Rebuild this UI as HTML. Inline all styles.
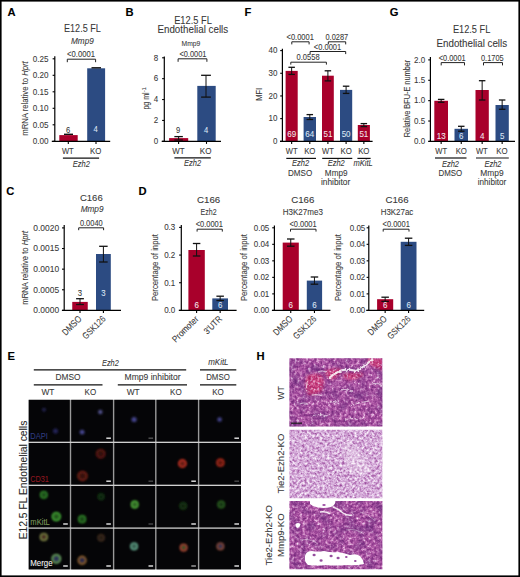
<!DOCTYPE html>
<html><head><meta charset="utf-8"><style>
html,body{margin:0;padding:0;background:#fff;}
body{width:520px;height:577px;overflow:hidden;}
svg{display:block;font-family:"Liberation Sans", sans-serif;}
</style></head><body>
<svg width="520" height="577" viewBox="0 0 520 577">
<rect x="0" y="0" width="520" height="577" fill="#fff"/>
<rect x="0.8" y="0.8" width="518.4" height="575.4" fill="none" stroke="#000" stroke-width="1.6"/>
<text x="7.60" y="15.60" font-size="11.20" text-anchor="start" fill="#000" font-weight="bold" stroke="#000" stroke-width="0.1" textLength="8.09" lengthAdjust="spacingAndGlyphs">A</text>
<text x="125.60" y="15.70" font-size="11.20" text-anchor="start" fill="#000" font-weight="bold" stroke="#000" stroke-width="0.1" textLength="8.09" lengthAdjust="spacingAndGlyphs">B</text>
<text x="244.60" y="15.90" font-size="11.20" text-anchor="start" fill="#000" font-weight="bold" stroke="#000" stroke-width="0.1" textLength="6.84" lengthAdjust="spacingAndGlyphs">F</text>
<text x="389.80" y="15.60" font-size="11.20" text-anchor="start" fill="#000" font-weight="bold" stroke="#000" stroke-width="0.1" textLength="8.71" lengthAdjust="spacingAndGlyphs">G</text>
<text x="6.30" y="195.20" font-size="11.20" text-anchor="start" fill="#000" font-weight="bold" stroke="#000" stroke-width="0.1" textLength="8.09" lengthAdjust="spacingAndGlyphs">C</text>
<text x="138.60" y="195.20" font-size="11.20" text-anchor="start" fill="#000" font-weight="bold" stroke="#000" stroke-width="0.1" textLength="8.09" lengthAdjust="spacingAndGlyphs">D</text>
<text x="7.60" y="360.20" font-size="11.20" text-anchor="start" fill="#000" font-weight="bold" stroke="#000" stroke-width="0.1" textLength="7.47" lengthAdjust="spacingAndGlyphs">E</text>
<text x="256.50" y="360.30" font-size="11.20" text-anchor="start" fill="#000" font-weight="bold" stroke="#000" stroke-width="0.1" textLength="8.09" lengthAdjust="spacingAndGlyphs">H</text>
<text x="82.40" y="32.00" font-size="11.04" text-anchor="middle" fill="#383838" stroke="#383838" stroke-width="0.08" textLength="36.80" lengthAdjust="spacingAndGlyphs">E12.5 FL</text>
<text x="82.40" y="43.80" font-size="8.51" text-anchor="middle" fill="#383838" font-style="italic" stroke="#383838" stroke-width="0.08" textLength="22.80" lengthAdjust="spacingAndGlyphs">Mmp9</text>
<text x="81.00" y="57.00" font-size="8.74" text-anchor="middle" fill="#383838" stroke="#383838" stroke-width="0.08" textLength="27.90" lengthAdjust="spacingAndGlyphs">&lt;0.0001</text>
<path d="M67.30 62.20V59.20H95.60V62.20" fill="none" stroke="#222" stroke-width="1"/>
<line x1="54.80" y1="56.20" x2="54.80" y2="141.90" stroke="#000" stroke-width="1.2"/>
<line x1="52.60" y1="141.30" x2="54.80" y2="141.30" stroke="#000" stroke-width="1.1"/>
<text x="48.50" y="144.10" font-size="9.20" text-anchor="end" fill="#383838" stroke="#383838" stroke-width="0.08" textLength="15.80" lengthAdjust="spacingAndGlyphs">0.00</text>
<line x1="52.60" y1="124.80" x2="54.80" y2="124.80" stroke="#000" stroke-width="1.1"/>
<text x="48.50" y="127.60" font-size="9.20" text-anchor="end" fill="#383838" stroke="#383838" stroke-width="0.08" textLength="15.80" lengthAdjust="spacingAndGlyphs">0.05</text>
<line x1="52.60" y1="108.30" x2="54.80" y2="108.30" stroke="#000" stroke-width="1.1"/>
<text x="48.50" y="111.10" font-size="9.20" text-anchor="end" fill="#383838" stroke="#383838" stroke-width="0.08" textLength="15.80" lengthAdjust="spacingAndGlyphs">0.10</text>
<line x1="52.60" y1="91.80" x2="54.80" y2="91.80" stroke="#000" stroke-width="1.1"/>
<text x="48.50" y="94.60" font-size="9.20" text-anchor="end" fill="#383838" stroke="#383838" stroke-width="0.08" textLength="15.80" lengthAdjust="spacingAndGlyphs">0.15</text>
<line x1="52.60" y1="75.30" x2="54.80" y2="75.30" stroke="#000" stroke-width="1.1"/>
<text x="48.50" y="78.10" font-size="9.20" text-anchor="end" fill="#383838" stroke="#383838" stroke-width="0.08" textLength="15.80" lengthAdjust="spacingAndGlyphs">0.20</text>
<line x1="52.60" y1="58.80" x2="54.80" y2="58.80" stroke="#000" stroke-width="1.1"/>
<text x="48.50" y="61.60" font-size="9.20" text-anchor="end" fill="#383838" stroke="#383838" stroke-width="0.08" textLength="15.80" lengthAdjust="spacingAndGlyphs">0.25</text>
<rect x="59.30" y="135.10" width="18.40" height="6.20" fill="#a8002b" />
<rect x="87.20" y="68.30" width="17.90" height="73.00" fill="#2c4b82" />
<line x1="64.00" y1="134.30" x2="73.00" y2="134.30" stroke="#111" stroke-width="1.4"/>
<line x1="91.50" y1="67.80" x2="101.00" y2="67.80" stroke="#111" stroke-width="1.4"/>
<line x1="51.80" y1="141.30" x2="110.20" y2="141.30" stroke="#000" stroke-width="1.3"/>
<line x1="68.30" y1="141.30" x2="68.30" y2="143.90" stroke="#000" stroke-width="1.1"/>
<line x1="96.00" y1="141.30" x2="96.00" y2="143.90" stroke="#000" stroke-width="1.1"/>
<text x="68.00" y="132.60" font-size="8.74" text-anchor="middle" fill="#383838" stroke="#383838" stroke-width="0.08" textLength="4.23" lengthAdjust="spacingAndGlyphs">6</text>
<text x="95.50" y="132.40" font-size="8.74" text-anchor="middle" fill="#dde6f5" stroke="#dde6f5" stroke-width="0.08" textLength="4.23" lengthAdjust="spacingAndGlyphs">4</text>
<text x="67.80" y="154.20" font-size="8.74" text-anchor="middle" fill="#383838" stroke="#383838" stroke-width="0.08" textLength="11.80" lengthAdjust="spacingAndGlyphs">WT</text>
<text x="95.60" y="154.20" font-size="8.74" text-anchor="middle" fill="#383838" stroke="#383838" stroke-width="0.08" textLength="11.30" lengthAdjust="spacingAndGlyphs">KO</text>
<line x1="62.90" y1="158.10" x2="99.10" y2="158.10" stroke="#111" stroke-width="1.2"/>
<text x="81.40" y="166.50" font-size="8.74" text-anchor="middle" fill="#383838" font-style="italic" stroke="#383838" stroke-width="0.08" textLength="17.10" lengthAdjust="spacingAndGlyphs">Ezh2</text>
<text x="28.40" y="98.50" font-size="9.54" text-anchor="middle" fill="#383838" stroke="#383838" stroke-width="0.08" textLength="74.50" lengthAdjust="spacingAndGlyphs" transform="rotate(-90 28.40 98.50)">mRNA relative to <tspan font-style="italic">Hprt</tspan></text>
<text x="193.00" y="24.40" font-size="10.00" text-anchor="middle" fill="#383838" stroke="#383838" stroke-width="0.08" textLength="37.60" lengthAdjust="spacingAndGlyphs">E12.5 FL</text>
<text x="192.80" y="33.40" font-size="10.20" text-anchor="middle" fill="#383838" stroke="#383838" stroke-width="0.08" textLength="70.70" lengthAdjust="spacingAndGlyphs">Endothelial cells</text>
<text x="190.90" y="45.70" font-size="7.80" text-anchor="middle" fill="#383838" stroke="#383838" stroke-width="0.08" textLength="18.80" lengthAdjust="spacingAndGlyphs">Mmp9</text>
<text x="192.90" y="57.00" font-size="8.51" text-anchor="middle" fill="#383838" stroke="#383838" stroke-width="0.08" textLength="27.00" lengthAdjust="spacingAndGlyphs">&lt;0.0001</text>
<path d="M178.10 61.80V58.80H206.90V61.80" fill="none" stroke="#222" stroke-width="1"/>
<line x1="164.30" y1="56.60" x2="164.30" y2="141.90" stroke="#000" stroke-width="1.2"/>
<line x1="162.10" y1="141.30" x2="164.30" y2="141.30" stroke="#000" stroke-width="1.1"/>
<text x="158.30" y="144.10" font-size="9.20" text-anchor="end" fill="#383838" stroke="#383838" stroke-width="0.08" textLength="4.45" lengthAdjust="spacingAndGlyphs">0</text>
<line x1="162.10" y1="120.43" x2="164.30" y2="120.43" stroke="#000" stroke-width="1.1"/>
<text x="158.30" y="123.23" font-size="9.20" text-anchor="end" fill="#383838" stroke="#383838" stroke-width="0.08" textLength="4.45" lengthAdjust="spacingAndGlyphs">2</text>
<line x1="162.10" y1="99.55" x2="164.30" y2="99.55" stroke="#000" stroke-width="1.1"/>
<text x="158.30" y="102.35" font-size="9.20" text-anchor="end" fill="#383838" stroke="#383838" stroke-width="0.08" textLength="4.45" lengthAdjust="spacingAndGlyphs">4</text>
<line x1="162.10" y1="78.67" x2="164.30" y2="78.67" stroke="#000" stroke-width="1.1"/>
<text x="158.30" y="81.47" font-size="9.20" text-anchor="end" fill="#383838" stroke="#383838" stroke-width="0.08" textLength="4.45" lengthAdjust="spacingAndGlyphs">6</text>
<line x1="162.10" y1="57.80" x2="164.30" y2="57.80" stroke="#000" stroke-width="1.1"/>
<text x="158.30" y="60.60" font-size="9.20" text-anchor="end" fill="#383838" stroke="#383838" stroke-width="0.08" textLength="4.45" lengthAdjust="spacingAndGlyphs">8</text>
<rect x="169.10" y="138.10" width="19.10" height="3.20" fill="#a8002b" />
<rect x="197.30" y="85.90" width="18.40" height="55.40" fill="#2c4b82" />
<line x1="178.60" y1="136.60" x2="178.60" y2="140.00" stroke="#111" stroke-width="1"/>
<line x1="174.35" y1="136.60" x2="182.85" y2="136.60" stroke="#111" stroke-width="1.3"/>
<line x1="174.35" y1="140.00" x2="182.85" y2="140.00" stroke="#111" stroke-width="1.3"/>
<line x1="206.00" y1="75.30" x2="206.00" y2="97.10" stroke="#111" stroke-width="1"/>
<line x1="201.10" y1="75.30" x2="210.90" y2="75.30" stroke="#111" stroke-width="1.3"/>
<line x1="201.10" y1="97.10" x2="210.90" y2="97.10" stroke="#111" stroke-width="1.3"/>
<line x1="161.70" y1="141.30" x2="221.00" y2="141.30" stroke="#000" stroke-width="1.3"/>
<line x1="178.60" y1="141.30" x2="178.60" y2="143.90" stroke="#000" stroke-width="1.1"/>
<line x1="206.50" y1="141.30" x2="206.50" y2="143.90" stroke="#000" stroke-width="1.1"/>
<text x="178.20" y="132.90" font-size="8.74" text-anchor="middle" fill="#383838" stroke="#383838" stroke-width="0.08" textLength="4.23" lengthAdjust="spacingAndGlyphs">9</text>
<text x="206.20" y="132.90" font-size="8.74" text-anchor="middle" fill="#dde6f5" stroke="#dde6f5" stroke-width="0.08" textLength="4.23" lengthAdjust="spacingAndGlyphs">4</text>
<text x="178.40" y="154.20" font-size="8.74" text-anchor="middle" fill="#383838" stroke="#383838" stroke-width="0.08" textLength="12.30" lengthAdjust="spacingAndGlyphs">WT</text>
<text x="205.60" y="154.20" font-size="8.74" text-anchor="middle" fill="#383838" stroke="#383838" stroke-width="0.08" textLength="11.60" lengthAdjust="spacingAndGlyphs">KO</text>
<line x1="174.40" y1="157.80" x2="210.80" y2="157.80" stroke="#111" stroke-width="1.2"/>
<text x="192.60" y="166.00" font-size="8.74" text-anchor="middle" fill="#383838" font-style="italic" stroke="#383838" stroke-width="0.08" textLength="17.10" lengthAdjust="spacingAndGlyphs">Ezh2</text>
<text x="148.60" y="109.60" font-size="8.97" text-anchor="start" fill="#383838" stroke="#383838" stroke-width="0.08" textLength="17.20" lengthAdjust="spacingAndGlyphs" transform="rotate(-90 148.60 109.60)">pg ml</text>
<text x="145.60" y="92.00" font-size="5.98" text-anchor="start" fill="#383838" stroke="#383838" stroke-width="0.08" textLength="4.60" lengthAdjust="spacingAndGlyphs" transform="rotate(-90 145.60 92.00)">-1</text>
<line x1="282.40" y1="48.80" x2="282.40" y2="141.90" stroke="#000" stroke-width="1.2"/>
<line x1="280.20" y1="141.30" x2="282.40" y2="141.30" stroke="#000" stroke-width="1.1"/>
<text x="277.40" y="144.10" font-size="9.20" text-anchor="end" fill="#383838" stroke="#383838" stroke-width="0.08" textLength="4.45" lengthAdjust="spacingAndGlyphs">0</text>
<line x1="280.20" y1="118.62" x2="282.40" y2="118.62" stroke="#000" stroke-width="1.1"/>
<text x="277.40" y="121.42" font-size="9.20" text-anchor="end" fill="#383838" stroke="#383838" stroke-width="0.08" textLength="8.90" lengthAdjust="spacingAndGlyphs">10</text>
<line x1="280.20" y1="95.95" x2="282.40" y2="95.95" stroke="#000" stroke-width="1.1"/>
<text x="277.40" y="98.75" font-size="9.20" text-anchor="end" fill="#383838" stroke="#383838" stroke-width="0.08" textLength="8.90" lengthAdjust="spacingAndGlyphs">20</text>
<line x1="280.20" y1="73.27" x2="282.40" y2="73.27" stroke="#000" stroke-width="1.1"/>
<text x="277.40" y="76.07" font-size="9.20" text-anchor="end" fill="#383838" stroke="#383838" stroke-width="0.08" textLength="8.90" lengthAdjust="spacingAndGlyphs">30</text>
<line x1="280.20" y1="50.60" x2="282.40" y2="50.60" stroke="#000" stroke-width="1.1"/>
<text x="277.40" y="53.40" font-size="9.20" text-anchor="end" fill="#383838" stroke="#383838" stroke-width="0.08" textLength="8.90" lengthAdjust="spacingAndGlyphs">40</text>
<text x="300.20" y="39.50" font-size="8.51" text-anchor="middle" fill="#383838" stroke="#383838" stroke-width="0.08" textLength="27.30" lengthAdjust="spacingAndGlyphs">&lt;0.0001</text>
<path d="M291.80 44.40V41.80H309.10V44.40" fill="none" stroke="#222" stroke-width="1"/>
<text x="336.80" y="39.50" font-size="8.51" text-anchor="middle" fill="#383838" stroke="#383838" stroke-width="0.08" textLength="22.70" lengthAdjust="spacingAndGlyphs">0.0287</text>
<path d="M328.30 44.40V41.80H345.70V44.40" fill="none" stroke="#222" stroke-width="1"/>
<text x="327.50" y="49.50" font-size="8.51" text-anchor="middle" fill="#383838" stroke="#383838" stroke-width="0.08" textLength="27.30" lengthAdjust="spacingAndGlyphs">&lt;0.0001</text>
<path d="M310.10 54.10V51.50H345.70V54.10" fill="none" stroke="#222" stroke-width="1"/>
<text x="308.10" y="60.30" font-size="8.51" text-anchor="middle" fill="#383838" stroke="#383838" stroke-width="0.08" textLength="23.10" lengthAdjust="spacingAndGlyphs">0.0558</text>
<path d="M290.80 64.60V62.20H326.40V64.60" fill="none" stroke="#222" stroke-width="1"/>
<rect x="285.60" y="70.90" width="12.10" height="70.40" fill="#a8002b" />
<line x1="291.65" y1="67.30" x2="291.65" y2="74.40" stroke="#111" stroke-width="1"/>
<line x1="288.40" y1="67.30" x2="294.90" y2="67.30" stroke="#111" stroke-width="1.3"/>
<line x1="288.40" y1="74.40" x2="294.90" y2="74.40" stroke="#111" stroke-width="1.3"/>
<text x="291.65" y="137.20" font-size="9.20" text-anchor="middle" fill="#f1e6ea" stroke="#f1e6ea" stroke-width="0.08" textLength="8.90" lengthAdjust="spacingAndGlyphs">69</text>
<line x1="291.65" y1="141.30" x2="291.65" y2="143.90" stroke="#000" stroke-width="1.1"/>
<rect x="303.60" y="117.00" width="12.40" height="24.30" fill="#2c4b82" />
<line x1="309.80" y1="114.60" x2="309.80" y2="119.50" stroke="#111" stroke-width="1"/>
<line x1="306.55" y1="114.60" x2="313.05" y2="114.60" stroke="#111" stroke-width="1.3"/>
<line x1="306.55" y1="119.50" x2="313.05" y2="119.50" stroke="#111" stroke-width="1.3"/>
<text x="309.80" y="137.20" font-size="9.20" text-anchor="middle" fill="#dde6f5" stroke="#dde6f5" stroke-width="0.08" textLength="8.90" lengthAdjust="spacingAndGlyphs">64</text>
<line x1="309.80" y1="141.30" x2="309.80" y2="143.90" stroke="#000" stroke-width="1.1"/>
<rect x="322.00" y="75.70" width="11.80" height="65.60" fill="#a8002b" />
<line x1="327.90" y1="70.80" x2="327.90" y2="80.90" stroke="#111" stroke-width="1"/>
<line x1="324.65" y1="70.80" x2="331.15" y2="70.80" stroke="#111" stroke-width="1.3"/>
<line x1="324.65" y1="80.90" x2="331.15" y2="80.90" stroke="#111" stroke-width="1.3"/>
<text x="327.90" y="137.20" font-size="9.20" text-anchor="middle" fill="#f1e6ea" stroke="#f1e6ea" stroke-width="0.08" textLength="8.90" lengthAdjust="spacingAndGlyphs">51</text>
<line x1="327.90" y1="141.30" x2="327.90" y2="143.90" stroke="#000" stroke-width="1.1"/>
<rect x="340.00" y="89.90" width="12.20" height="51.40" fill="#2c4b82" />
<line x1="346.10" y1="86.20" x2="346.10" y2="93.40" stroke="#111" stroke-width="1"/>
<line x1="342.85" y1="86.20" x2="349.35" y2="86.20" stroke="#111" stroke-width="1.3"/>
<line x1="342.85" y1="93.40" x2="349.35" y2="93.40" stroke="#111" stroke-width="1.3"/>
<text x="346.10" y="137.20" font-size="9.20" text-anchor="middle" fill="#dde6f5" stroke="#dde6f5" stroke-width="0.08" textLength="8.90" lengthAdjust="spacingAndGlyphs">50</text>
<line x1="346.10" y1="141.30" x2="346.10" y2="143.90" stroke="#000" stroke-width="1.1"/>
<rect x="357.80" y="125.00" width="12.10" height="16.30" fill="#a8002b" />
<line x1="363.85" y1="123.60" x2="363.85" y2="126.60" stroke="#111" stroke-width="1"/>
<line x1="360.60" y1="123.60" x2="367.10" y2="123.60" stroke="#111" stroke-width="1.3"/>
<line x1="360.60" y1="126.60" x2="367.10" y2="126.60" stroke="#111" stroke-width="1.3"/>
<text x="363.85" y="137.20" font-size="9.20" text-anchor="middle" fill="#f1e6ea" stroke="#f1e6ea" stroke-width="0.08" textLength="8.90" lengthAdjust="spacingAndGlyphs">51</text>
<line x1="363.85" y1="141.30" x2="363.85" y2="143.90" stroke="#000" stroke-width="1.1"/>
<line x1="280.00" y1="141.30" x2="372.60" y2="141.30" stroke="#000" stroke-width="1.3"/>
<text x="291.70" y="154.20" font-size="8.74" text-anchor="middle" fill="#383838" stroke="#383838" stroke-width="0.08" textLength="11.80" lengthAdjust="spacingAndGlyphs">WT</text>
<text x="309.80" y="154.20" font-size="8.74" text-anchor="middle" fill="#383838" stroke="#383838" stroke-width="0.08" textLength="11.30" lengthAdjust="spacingAndGlyphs">KO</text>
<text x="327.90" y="154.20" font-size="8.74" text-anchor="middle" fill="#383838" stroke="#383838" stroke-width="0.08" textLength="11.80" lengthAdjust="spacingAndGlyphs">WT</text>
<text x="346.10" y="154.20" font-size="8.74" text-anchor="middle" fill="#383838" stroke="#383838" stroke-width="0.08" textLength="11.30" lengthAdjust="spacingAndGlyphs">KO</text>
<text x="363.80" y="154.20" font-size="8.74" text-anchor="middle" fill="#383838" stroke="#383838" stroke-width="0.08" textLength="11.30" lengthAdjust="spacingAndGlyphs">KO</text>
<line x1="286.30" y1="158.40" x2="316.00" y2="158.40" stroke="#111" stroke-width="1.2"/>
<line x1="322.20" y1="158.40" x2="352.30" y2="158.40" stroke="#111" stroke-width="1.2"/>
<line x1="357.40" y1="158.40" x2="370.60" y2="158.40" stroke="#111" stroke-width="1.2"/>
<text x="300.60" y="166.40" font-size="8.74" text-anchor="middle" fill="#383838" font-style="italic" stroke="#383838" stroke-width="0.08" textLength="17.10" lengthAdjust="spacingAndGlyphs">Ezh2</text>
<text x="300.10" y="176.20" font-size="8.74" text-anchor="middle" fill="#383838" stroke="#383838" stroke-width="0.08" textLength="24.20" lengthAdjust="spacingAndGlyphs">DMSO</text>
<text x="336.20" y="166.40" font-size="8.74" text-anchor="middle" fill="#383838" font-style="italic" stroke="#383838" stroke-width="0.08" textLength="17.10" lengthAdjust="spacingAndGlyphs">Ezh2</text>
<text x="336.20" y="176.30" font-size="8.74" text-anchor="middle" fill="#383838" stroke="#383838" stroke-width="0.08" textLength="22.70" lengthAdjust="spacingAndGlyphs">Mmp9</text>
<text x="335.60" y="185.20" font-size="8.74" text-anchor="middle" fill="#383838" stroke="#383838" stroke-width="0.08" textLength="29.20" lengthAdjust="spacingAndGlyphs">inhibitor</text>
<text x="363.10" y="166.40" font-size="8.74" text-anchor="middle" fill="#383838" font-style="italic" stroke="#383838" stroke-width="0.08" textLength="19.20" lengthAdjust="spacingAndGlyphs">mKitL</text>
<text x="262.20" y="94.30" font-size="9.66" text-anchor="middle" fill="#383838" stroke="#383838" stroke-width="0.08" textLength="13.00" lengthAdjust="spacingAndGlyphs" transform="rotate(-90 262.20 94.30)">MFI</text>
<text x="471.60" y="33.20" font-size="10.00" text-anchor="middle" fill="#383838" stroke="#383838" stroke-width="0.08" textLength="37.40" lengthAdjust="spacingAndGlyphs">E12.5 FL</text>
<text x="471.80" y="46.80" font-size="10.20" text-anchor="middle" fill="#383838" stroke="#383838" stroke-width="0.08" textLength="70.60" lengthAdjust="spacingAndGlyphs">Endothelial cells</text>
<line x1="430.40" y1="56.90" x2="430.40" y2="142.00" stroke="#000" stroke-width="1.2"/>
<line x1="428.20" y1="141.40" x2="430.40" y2="141.40" stroke="#000" stroke-width="1.1"/>
<text x="425.20" y="144.20" font-size="9.20" text-anchor="end" fill="#383838" stroke="#383838" stroke-width="0.08" textLength="11.12" lengthAdjust="spacingAndGlyphs">0.0</text>
<line x1="428.20" y1="121.03" x2="430.40" y2="121.03" stroke="#000" stroke-width="1.1"/>
<text x="425.20" y="123.83" font-size="9.20" text-anchor="end" fill="#383838" stroke="#383838" stroke-width="0.08" textLength="11.12" lengthAdjust="spacingAndGlyphs">0.5</text>
<line x1="428.20" y1="100.65" x2="430.40" y2="100.65" stroke="#000" stroke-width="1.1"/>
<text x="425.20" y="103.45" font-size="9.20" text-anchor="end" fill="#383838" stroke="#383838" stroke-width="0.08" textLength="11.12" lengthAdjust="spacingAndGlyphs">1.0</text>
<line x1="428.20" y1="80.28" x2="430.40" y2="80.28" stroke="#000" stroke-width="1.1"/>
<text x="425.20" y="83.08" font-size="9.20" text-anchor="end" fill="#383838" stroke="#383838" stroke-width="0.08" textLength="11.12" lengthAdjust="spacingAndGlyphs">1.5</text>
<line x1="428.20" y1="59.90" x2="430.40" y2="59.90" stroke="#000" stroke-width="1.1"/>
<text x="425.20" y="62.70" font-size="9.20" text-anchor="end" fill="#383838" stroke="#383838" stroke-width="0.08" textLength="11.12" lengthAdjust="spacingAndGlyphs">2.0</text>
<text x="452.20" y="60.90" font-size="8.51" text-anchor="middle" fill="#383838" stroke="#383838" stroke-width="0.08" textLength="26.90" lengthAdjust="spacingAndGlyphs">&lt;0.0001</text>
<path d="M441.20 65.40V62.60H464.50V65.40" fill="none" stroke="#222" stroke-width="1"/>
<text x="492.30" y="60.90" font-size="8.51" text-anchor="middle" fill="#383838" stroke="#383838" stroke-width="0.08" textLength="22.70" lengthAdjust="spacingAndGlyphs">0.1705</text>
<path d="M483.50 65.40V62.60H502.50V65.40" fill="none" stroke="#222" stroke-width="1"/>
<rect x="434.30" y="100.80" width="13.70" height="40.60" fill="#a8002b" />
<line x1="441.15" y1="99.40" x2="441.15" y2="102.30" stroke="#111" stroke-width="1"/>
<line x1="437.90" y1="99.40" x2="444.40" y2="99.40" stroke="#111" stroke-width="1.3"/>
<line x1="437.90" y1="102.30" x2="444.40" y2="102.30" stroke="#111" stroke-width="1.3"/>
<text x="441.15" y="138.60" font-size="9.20" text-anchor="middle" fill="#f1e6ea" stroke="#f1e6ea" stroke-width="0.08" textLength="8.90" lengthAdjust="spacingAndGlyphs">13</text>
<line x1="441.15" y1="141.40" x2="441.15" y2="144.00" stroke="#000" stroke-width="1.1"/>
<rect x="454.50" y="128.80" width="13.50" height="12.60" fill="#2c4b82" />
<line x1="461.25" y1="126.30" x2="461.25" y2="131.20" stroke="#111" stroke-width="1"/>
<line x1="458.00" y1="126.30" x2="464.50" y2="126.30" stroke="#111" stroke-width="1.3"/>
<line x1="458.00" y1="131.20" x2="464.50" y2="131.20" stroke="#111" stroke-width="1.3"/>
<text x="461.25" y="138.60" font-size="9.20" text-anchor="middle" fill="#dde6f5" stroke="#dde6f5" stroke-width="0.08" textLength="4.45" lengthAdjust="spacingAndGlyphs">6</text>
<line x1="461.25" y1="141.40" x2="461.25" y2="144.00" stroke="#000" stroke-width="1.1"/>
<rect x="475.50" y="90.00" width="13.30" height="51.40" fill="#a8002b" />
<line x1="482.15" y1="80.70" x2="482.15" y2="100.00" stroke="#111" stroke-width="1"/>
<line x1="478.90" y1="80.70" x2="485.40" y2="80.70" stroke="#111" stroke-width="1.3"/>
<line x1="478.90" y1="100.00" x2="485.40" y2="100.00" stroke="#111" stroke-width="1.3"/>
<text x="482.15" y="138.60" font-size="9.20" text-anchor="middle" fill="#f1e6ea" stroke="#f1e6ea" stroke-width="0.08" textLength="4.45" lengthAdjust="spacingAndGlyphs">4</text>
<line x1="482.15" y1="141.40" x2="482.15" y2="144.00" stroke="#000" stroke-width="1.1"/>
<rect x="495.50" y="105.00" width="13.30" height="36.40" fill="#2c4b82" />
<line x1="502.15" y1="100.00" x2="502.15" y2="109.30" stroke="#111" stroke-width="1"/>
<line x1="498.90" y1="100.00" x2="505.40" y2="100.00" stroke="#111" stroke-width="1.3"/>
<line x1="498.90" y1="109.30" x2="505.40" y2="109.30" stroke="#111" stroke-width="1.3"/>
<text x="502.15" y="138.60" font-size="9.20" text-anchor="middle" fill="#dde6f5" stroke="#dde6f5" stroke-width="0.08" textLength="4.45" lengthAdjust="spacingAndGlyphs">5</text>
<line x1="502.15" y1="141.40" x2="502.15" y2="144.00" stroke="#000" stroke-width="1.1"/>
<line x1="428.50" y1="141.40" x2="515.00" y2="141.40" stroke="#000" stroke-width="1.3"/>
<text x="441.20" y="154.00" font-size="8.74" text-anchor="middle" fill="#383838" stroke="#383838" stroke-width="0.08" textLength="11.80" lengthAdjust="spacingAndGlyphs">WT</text>
<text x="461.30" y="154.00" font-size="8.74" text-anchor="middle" fill="#383838" stroke="#383838" stroke-width="0.08" textLength="11.30" lengthAdjust="spacingAndGlyphs">KO</text>
<text x="481.80" y="154.00" font-size="8.74" text-anchor="middle" fill="#383838" stroke="#383838" stroke-width="0.08" textLength="11.80" lengthAdjust="spacingAndGlyphs">WT</text>
<text x="502.00" y="154.00" font-size="8.74" text-anchor="middle" fill="#383838" stroke="#383838" stroke-width="0.08" textLength="11.30" lengthAdjust="spacingAndGlyphs">KO</text>
<line x1="435.00" y1="158.00" x2="466.50" y2="158.00" stroke="#111" stroke-width="1.2"/>
<line x1="476.00" y1="158.00" x2="508.80" y2="158.00" stroke="#111" stroke-width="1.2"/>
<text x="450.50" y="166.60" font-size="8.74" text-anchor="middle" fill="#383838" font-style="italic" stroke="#383838" stroke-width="0.08" textLength="17.10" lengthAdjust="spacingAndGlyphs">Ezh2</text>
<text x="450.40" y="176.20" font-size="8.74" text-anchor="middle" fill="#383838" stroke="#383838" stroke-width="0.08" textLength="23.70" lengthAdjust="spacingAndGlyphs">DMSO</text>
<text x="493.00" y="166.60" font-size="8.74" text-anchor="middle" fill="#383838" font-style="italic" stroke="#383838" stroke-width="0.08" textLength="17.10" lengthAdjust="spacingAndGlyphs">Ezh2</text>
<text x="492.00" y="176.20" font-size="8.74" text-anchor="middle" fill="#383838" stroke="#383838" stroke-width="0.08" textLength="23.30" lengthAdjust="spacingAndGlyphs">Mmp9</text>
<text x="492.00" y="185.20" font-size="8.74" text-anchor="middle" fill="#383838" stroke="#383838" stroke-width="0.08" textLength="28.50" lengthAdjust="spacingAndGlyphs">inhibitor</text>
<text x="409.80" y="98.50" font-size="9.66" text-anchor="middle" fill="#383838" stroke="#383838" stroke-width="0.08" textLength="77.50" lengthAdjust="spacingAndGlyphs" transform="rotate(-90 409.80 98.50)">Relative BFU-E number</text>
<text x="91.30" y="200.70" font-size="9.60" text-anchor="middle" fill="#383838" stroke="#383838" stroke-width="0.08" textLength="22.80" lengthAdjust="spacingAndGlyphs">C166</text>
<text x="92.10" y="212.00" font-size="8.39" text-anchor="middle" fill="#383838" font-style="italic" stroke="#383838" stroke-width="0.08" textLength="22.90" lengthAdjust="spacingAndGlyphs">Mmp9</text>
<text x="91.30" y="225.50" font-size="8.51" text-anchor="middle" fill="#383838" stroke="#383838" stroke-width="0.08" textLength="22.80" lengthAdjust="spacingAndGlyphs">0.0040</text>
<path d="M78.70 230.20V227.80H103.60V230.20" fill="none" stroke="#222" stroke-width="1"/>
<line x1="64.20" y1="225.00" x2="64.20" y2="311.00" stroke="#000" stroke-width="1.2"/>
<line x1="62.00" y1="310.40" x2="64.20" y2="310.40" stroke="#000" stroke-width="1.1"/>
<text x="59.10" y="313.20" font-size="9.20" text-anchor="end" fill="#383838" stroke="#383838" stroke-width="0.08" textLength="25.80" lengthAdjust="spacingAndGlyphs">0.0000</text>
<line x1="62.00" y1="289.77" x2="64.20" y2="289.77" stroke="#000" stroke-width="1.1"/>
<text x="59.10" y="292.57" font-size="9.20" text-anchor="end" fill="#383838" stroke="#383838" stroke-width="0.08" textLength="25.80" lengthAdjust="spacingAndGlyphs">0.0005</text>
<line x1="62.00" y1="269.15" x2="64.20" y2="269.15" stroke="#000" stroke-width="1.1"/>
<text x="59.10" y="271.95" font-size="9.20" text-anchor="end" fill="#383838" stroke="#383838" stroke-width="0.08" textLength="25.80" lengthAdjust="spacingAndGlyphs">0.0010</text>
<line x1="62.00" y1="248.53" x2="64.20" y2="248.53" stroke="#000" stroke-width="1.1"/>
<text x="59.10" y="251.33" font-size="9.20" text-anchor="end" fill="#383838" stroke="#383838" stroke-width="0.08" textLength="25.80" lengthAdjust="spacingAndGlyphs">0.0015</text>
<line x1="62.00" y1="227.90" x2="64.20" y2="227.90" stroke="#000" stroke-width="1.1"/>
<text x="59.10" y="230.70" font-size="9.20" text-anchor="end" fill="#383838" stroke="#383838" stroke-width="0.08" textLength="25.80" lengthAdjust="spacingAndGlyphs">0.0020</text>
<rect x="72.25" y="301.90" width="15.50" height="8.50" fill="#a8002b" />
<rect x="96.00" y="254.00" width="14.80" height="56.40" fill="#2c4b82" />
<line x1="80.00" y1="298.70" x2="80.00" y2="304.50" stroke="#111" stroke-width="1"/>
<line x1="76.10" y1="298.70" x2="83.90" y2="298.70" stroke="#111" stroke-width="1.3"/>
<line x1="76.10" y1="304.50" x2="83.90" y2="304.50" stroke="#111" stroke-width="1.3"/>
<line x1="103.40" y1="246.30" x2="103.40" y2="262.00" stroke="#111" stroke-width="1"/>
<line x1="99.15" y1="246.30" x2="107.65" y2="246.30" stroke="#111" stroke-width="1.3"/>
<line x1="99.15" y1="262.00" x2="107.65" y2="262.00" stroke="#111" stroke-width="1.3"/>
<line x1="61.90" y1="310.40" x2="121.00" y2="310.40" stroke="#000" stroke-width="1.3"/>
<line x1="80.00" y1="310.40" x2="80.00" y2="313.00" stroke="#000" stroke-width="1.1"/>
<line x1="103.40" y1="310.40" x2="103.40" y2="313.00" stroke="#000" stroke-width="1.1"/>
<text x="80.00" y="295.50" font-size="8.97" text-anchor="middle" fill="#383838" stroke="#383838" stroke-width="0.08" textLength="4.34" lengthAdjust="spacingAndGlyphs">3</text>
<text x="103.50" y="295.50" font-size="8.97" text-anchor="middle" fill="#dde6f5" stroke="#dde6f5" stroke-width="0.08" textLength="4.34" lengthAdjust="spacingAndGlyphs">3</text>
<text x="82.20" y="319.60" font-size="9.20" text-anchor="end" fill="#383838" stroke="#383838" stroke-width="0.08" textLength="23.30" lengthAdjust="spacingAndGlyphs" transform="rotate(-45 82.20 319.60)">DMSO</text>
<text x="106.20" y="319.60" font-size="9.20" text-anchor="end" fill="#383838" stroke="#383838" stroke-width="0.08" textLength="28.50" lengthAdjust="spacingAndGlyphs" transform="rotate(-45 106.20 319.60)">GSK126</text>
<text x="28.40" y="267.80" font-size="9.54" text-anchor="middle" fill="#383838" stroke="#383838" stroke-width="0.08" textLength="73.70" lengthAdjust="spacingAndGlyphs" transform="rotate(-90 28.40 267.80)">mRNA relative to <tspan font-style="italic">Hprt</tspan></text>
<line x1="181.30" y1="225.00" x2="181.30" y2="311.00" stroke="#000" stroke-width="1.2"/>
<line x1="179.10" y1="310.40" x2="181.30" y2="310.40" stroke="#000" stroke-width="1.1"/>
<text x="175.30" y="313.20" font-size="9.20" text-anchor="end" fill="#383838" stroke="#383838" stroke-width="0.08" textLength="11.12" lengthAdjust="spacingAndGlyphs">0.0</text>
<line x1="179.10" y1="282.73" x2="181.30" y2="282.73" stroke="#000" stroke-width="1.1"/>
<text x="175.30" y="285.53" font-size="9.20" text-anchor="end" fill="#383838" stroke="#383838" stroke-width="0.08" textLength="11.12" lengthAdjust="spacingAndGlyphs">0.1</text>
<line x1="179.10" y1="255.07" x2="181.30" y2="255.07" stroke="#000" stroke-width="1.1"/>
<text x="175.30" y="257.87" font-size="9.20" text-anchor="end" fill="#383838" stroke="#383838" stroke-width="0.08" textLength="11.12" lengthAdjust="spacingAndGlyphs">0.2</text>
<line x1="179.10" y1="227.40" x2="181.30" y2="227.40" stroke="#000" stroke-width="1.1"/>
<text x="175.30" y="230.20" font-size="9.20" text-anchor="end" fill="#383838" stroke="#383838" stroke-width="0.08" textLength="11.12" lengthAdjust="spacingAndGlyphs">0.3</text>
<rect x="188.40" y="250.00" width="16.40" height="60.40" fill="#a8002b" />
<line x1="196.60" y1="243.50" x2="196.60" y2="256.00" stroke="#111" stroke-width="1"/>
<line x1="192.85" y1="243.50" x2="200.35" y2="243.50" stroke="#111" stroke-width="1.3"/>
<line x1="192.85" y1="256.00" x2="200.35" y2="256.00" stroke="#111" stroke-width="1.3"/>
<text x="196.60" y="308.40" font-size="9.20" text-anchor="middle" fill="#f1e6ea" stroke="#f1e6ea" stroke-width="0.08" textLength="4.45" lengthAdjust="spacingAndGlyphs">6</text>
<line x1="196.60" y1="310.40" x2="196.60" y2="313.00" stroke="#000" stroke-width="1.1"/>
<rect x="212.30" y="298.40" width="15.70" height="12.00" fill="#2c4b82" />
<line x1="220.15" y1="296.20" x2="220.15" y2="300.50" stroke="#111" stroke-width="1"/>
<line x1="216.40" y1="296.20" x2="223.90" y2="296.20" stroke="#111" stroke-width="1.3"/>
<line x1="216.40" y1="300.50" x2="223.90" y2="300.50" stroke="#111" stroke-width="1.3"/>
<text x="220.15" y="308.40" font-size="9.20" text-anchor="middle" fill="#dde6f5" stroke="#dde6f5" stroke-width="0.08" textLength="4.45" lengthAdjust="spacingAndGlyphs">6</text>
<line x1="220.15" y1="310.40" x2="220.15" y2="313.00" stroke="#000" stroke-width="1.1"/>
<line x1="178.80" y1="310.40" x2="236.60" y2="310.40" stroke="#000" stroke-width="1.3"/>
<text x="208.60" y="202.90" font-size="9.60" text-anchor="middle" fill="#383838" stroke="#383838" stroke-width="0.08" textLength="23.20" lengthAdjust="spacingAndGlyphs">C166</text>
<text x="208.60" y="214.80" font-size="8.51" text-anchor="middle" fill="#383838" stroke="#383838" stroke-width="0.08" textLength="16.10" lengthAdjust="spacingAndGlyphs">Ezh2</text>
<text x="209.30" y="227.00" font-size="8.51" text-anchor="middle" fill="#383838" stroke="#383838" stroke-width="0.08" textLength="27.20" lengthAdjust="spacingAndGlyphs">&lt;0.0001</text>
<path d="M197.10 231.60V229.20H222.30V231.60" fill="none" stroke="#222" stroke-width="1"/>
<text x="157.90" y="267.60" font-size="9.54" text-anchor="middle" fill="#383838" stroke="#383838" stroke-width="0.08" textLength="67.00" lengthAdjust="spacingAndGlyphs" transform="rotate(-90 157.90 267.60)">Percentage of input</text>
<text x="199.10" y="319.60" font-size="9.20" text-anchor="end" fill="#383838" stroke="#383838" stroke-width="0.08" textLength="33.00" lengthAdjust="spacingAndGlyphs" transform="rotate(-45 199.10 319.60)">Promoter</text>
<text x="222.60" y="319.60" font-size="9.20" text-anchor="end" fill="#383838" stroke="#383838" stroke-width="0.08" textLength="21.50" lengthAdjust="spacingAndGlyphs" transform="rotate(-45 222.60 319.60)">3'UTR</text>
<line x1="274.40" y1="225.40" x2="274.40" y2="311.00" stroke="#000" stroke-width="1.2"/>
<line x1="272.20" y1="310.40" x2="274.40" y2="310.40" stroke="#000" stroke-width="1.1"/>
<text x="269.30" y="313.20" font-size="9.20" text-anchor="end" fill="#383838" stroke="#383838" stroke-width="0.08" textLength="15.57" lengthAdjust="spacingAndGlyphs">0.00</text>
<line x1="272.20" y1="293.88" x2="274.40" y2="293.88" stroke="#000" stroke-width="1.1"/>
<text x="269.30" y="296.68" font-size="9.20" text-anchor="end" fill="#383838" stroke="#383838" stroke-width="0.08" textLength="15.57" lengthAdjust="spacingAndGlyphs">0.01</text>
<line x1="272.20" y1="277.36" x2="274.40" y2="277.36" stroke="#000" stroke-width="1.1"/>
<text x="269.30" y="280.16" font-size="9.20" text-anchor="end" fill="#383838" stroke="#383838" stroke-width="0.08" textLength="15.57" lengthAdjust="spacingAndGlyphs">0.02</text>
<line x1="272.20" y1="260.84" x2="274.40" y2="260.84" stroke="#000" stroke-width="1.1"/>
<text x="269.30" y="263.64" font-size="9.20" text-anchor="end" fill="#383838" stroke="#383838" stroke-width="0.08" textLength="15.57" lengthAdjust="spacingAndGlyphs">0.03</text>
<line x1="272.20" y1="244.32" x2="274.40" y2="244.32" stroke="#000" stroke-width="1.1"/>
<text x="269.30" y="247.12" font-size="9.20" text-anchor="end" fill="#383838" stroke="#383838" stroke-width="0.08" textLength="15.57" lengthAdjust="spacingAndGlyphs">0.04</text>
<line x1="272.20" y1="227.80" x2="274.40" y2="227.80" stroke="#000" stroke-width="1.1"/>
<text x="269.30" y="230.60" font-size="9.20" text-anchor="end" fill="#383838" stroke="#383838" stroke-width="0.08" textLength="15.57" lengthAdjust="spacingAndGlyphs">0.05</text>
<rect x="282.70" y="242.60" width="16.10" height="67.80" fill="#a8002b" />
<line x1="290.75" y1="239.00" x2="290.75" y2="246.20" stroke="#111" stroke-width="1"/>
<line x1="287.00" y1="239.00" x2="294.50" y2="239.00" stroke="#111" stroke-width="1.3"/>
<line x1="287.00" y1="246.20" x2="294.50" y2="246.20" stroke="#111" stroke-width="1.3"/>
<text x="290.75" y="308.40" font-size="9.20" text-anchor="middle" fill="#f1e6ea" stroke="#f1e6ea" stroke-width="0.08" textLength="4.45" lengthAdjust="spacingAndGlyphs">6</text>
<line x1="290.75" y1="310.40" x2="290.75" y2="313.00" stroke="#000" stroke-width="1.1"/>
<rect x="306.80" y="280.60" width="15.30" height="29.80" fill="#2c4b82" />
<line x1="314.45" y1="277.00" x2="314.45" y2="284.20" stroke="#111" stroke-width="1"/>
<line x1="310.70" y1="277.00" x2="318.20" y2="277.00" stroke="#111" stroke-width="1.3"/>
<line x1="310.70" y1="284.20" x2="318.20" y2="284.20" stroke="#111" stroke-width="1.3"/>
<text x="314.45" y="308.40" font-size="9.20" text-anchor="middle" fill="#dde6f5" stroke="#dde6f5" stroke-width="0.08" textLength="4.45" lengthAdjust="spacingAndGlyphs">6</text>
<line x1="314.45" y1="310.40" x2="314.45" y2="313.00" stroke="#000" stroke-width="1.1"/>
<line x1="271.90" y1="310.40" x2="330.40" y2="310.40" stroke="#000" stroke-width="1.3"/>
<text x="302.80" y="202.90" font-size="9.60" text-anchor="middle" fill="#383838" stroke="#383838" stroke-width="0.08" textLength="23.20" lengthAdjust="spacingAndGlyphs">C166</text>
<text x="302.80" y="214.80" font-size="8.51" text-anchor="middle" fill="#383838" stroke="#383838" stroke-width="0.08" textLength="40.20" lengthAdjust="spacingAndGlyphs">H3K27me3</text>
<text x="303.00" y="227.00" font-size="8.51" text-anchor="middle" fill="#383838" stroke="#383838" stroke-width="0.08" textLength="27.20" lengthAdjust="spacingAndGlyphs">&lt;0.0001</text>
<path d="M290.50 231.60V229.20H316.00V231.60" fill="none" stroke="#222" stroke-width="1"/>
<text x="246.80" y="267.60" font-size="9.54" text-anchor="middle" fill="#383838" stroke="#383838" stroke-width="0.08" textLength="67.00" lengthAdjust="spacingAndGlyphs" transform="rotate(-90 246.80 267.60)">Percentage of input</text>
<text x="293.25" y="319.60" font-size="9.20" text-anchor="end" fill="#383838" stroke="#383838" stroke-width="0.08" textLength="23.30" lengthAdjust="spacingAndGlyphs" transform="rotate(-45 293.25 319.60)">DMSO</text>
<text x="316.95" y="319.60" font-size="9.20" text-anchor="end" fill="#383838" stroke="#383838" stroke-width="0.08" textLength="28.50" lengthAdjust="spacingAndGlyphs" transform="rotate(-45 316.95 319.60)">GSK126</text>
<line x1="368.80" y1="225.40" x2="368.80" y2="311.00" stroke="#000" stroke-width="1.2"/>
<line x1="366.60" y1="310.40" x2="368.80" y2="310.40" stroke="#000" stroke-width="1.1"/>
<text x="365.30" y="313.20" font-size="9.20" text-anchor="end" fill="#383838" stroke="#383838" stroke-width="0.08" textLength="15.57" lengthAdjust="spacingAndGlyphs">0.00</text>
<line x1="366.60" y1="293.88" x2="368.80" y2="293.88" stroke="#000" stroke-width="1.1"/>
<text x="365.30" y="296.68" font-size="9.20" text-anchor="end" fill="#383838" stroke="#383838" stroke-width="0.08" textLength="15.57" lengthAdjust="spacingAndGlyphs">0.01</text>
<line x1="366.60" y1="277.36" x2="368.80" y2="277.36" stroke="#000" stroke-width="1.1"/>
<text x="365.30" y="280.16" font-size="9.20" text-anchor="end" fill="#383838" stroke="#383838" stroke-width="0.08" textLength="15.57" lengthAdjust="spacingAndGlyphs">0.02</text>
<line x1="366.60" y1="260.84" x2="368.80" y2="260.84" stroke="#000" stroke-width="1.1"/>
<text x="365.30" y="263.64" font-size="9.20" text-anchor="end" fill="#383838" stroke="#383838" stroke-width="0.08" textLength="15.57" lengthAdjust="spacingAndGlyphs">0.03</text>
<line x1="366.60" y1="244.32" x2="368.80" y2="244.32" stroke="#000" stroke-width="1.1"/>
<text x="365.30" y="247.12" font-size="9.20" text-anchor="end" fill="#383838" stroke="#383838" stroke-width="0.08" textLength="15.57" lengthAdjust="spacingAndGlyphs">0.04</text>
<line x1="366.60" y1="227.80" x2="368.80" y2="227.80" stroke="#000" stroke-width="1.1"/>
<text x="365.30" y="230.60" font-size="9.20" text-anchor="end" fill="#383838" stroke="#383838" stroke-width="0.08" textLength="15.57" lengthAdjust="spacingAndGlyphs">0.05</text>
<rect x="377.10" y="299.20" width="16.10" height="11.20" fill="#a8002b" />
<line x1="385.15" y1="297.20" x2="385.15" y2="301.40" stroke="#111" stroke-width="1"/>
<line x1="381.40" y1="297.20" x2="388.90" y2="297.20" stroke="#111" stroke-width="1.3"/>
<line x1="381.40" y1="301.40" x2="388.90" y2="301.40" stroke="#111" stroke-width="1.3"/>
<text x="385.15" y="308.40" font-size="9.20" text-anchor="middle" fill="#f1e6ea" stroke="#f1e6ea" stroke-width="0.08" textLength="4.45" lengthAdjust="spacingAndGlyphs">6</text>
<line x1="385.15" y1="310.40" x2="385.15" y2="313.00" stroke="#000" stroke-width="1.1"/>
<rect x="400.70" y="241.80" width="15.80" height="68.60" fill="#2c4b82" />
<line x1="408.60" y1="238.20" x2="408.60" y2="245.40" stroke="#111" stroke-width="1"/>
<line x1="404.85" y1="238.20" x2="412.35" y2="238.20" stroke="#111" stroke-width="1.3"/>
<line x1="404.85" y1="245.40" x2="412.35" y2="245.40" stroke="#111" stroke-width="1.3"/>
<text x="408.60" y="308.40" font-size="9.20" text-anchor="middle" fill="#dde6f5" stroke="#dde6f5" stroke-width="0.08" textLength="4.45" lengthAdjust="spacingAndGlyphs">6</text>
<line x1="408.60" y1="310.40" x2="408.60" y2="313.00" stroke="#000" stroke-width="1.1"/>
<line x1="366.30" y1="310.40" x2="424.20" y2="310.40" stroke="#000" stroke-width="1.3"/>
<text x="397.00" y="202.90" font-size="9.60" text-anchor="middle" fill="#383838" stroke="#383838" stroke-width="0.08" textLength="23.20" lengthAdjust="spacingAndGlyphs">C166</text>
<text x="397.00" y="214.80" font-size="8.51" text-anchor="middle" fill="#383838" stroke="#383838" stroke-width="0.08" textLength="32.70" lengthAdjust="spacingAndGlyphs">H3K27ac</text>
<text x="396.20" y="227.00" font-size="8.51" text-anchor="middle" fill="#383838" stroke="#383838" stroke-width="0.08" textLength="27.20" lengthAdjust="spacingAndGlyphs">&lt;0.0001</text>
<path d="M383.20 231.60V229.20H409.00V231.60" fill="none" stroke="#222" stroke-width="1"/>
<text x="341.20" y="267.60" font-size="9.54" text-anchor="middle" fill="#383838" stroke="#383838" stroke-width="0.08" textLength="67.00" lengthAdjust="spacingAndGlyphs" transform="rotate(-90 341.20 267.60)">Percentage of input</text>
<text x="387.65" y="319.60" font-size="9.20" text-anchor="end" fill="#383838" stroke="#383838" stroke-width="0.08" textLength="23.30" lengthAdjust="spacingAndGlyphs" transform="rotate(-45 387.65 319.60)">DMSO</text>
<text x="411.10" y="319.60" font-size="9.20" text-anchor="end" fill="#383838" stroke="#383838" stroke-width="0.08" textLength="28.50" lengthAdjust="spacingAndGlyphs" transform="rotate(-45 411.10 319.60)">GSK126</text>
<text x="110.40" y="365.60" font-size="8.97" text-anchor="middle" fill="#383838" font-style="italic" stroke="#383838" stroke-width="0.08" textLength="16.80" lengthAdjust="spacingAndGlyphs">Ezh2</text>
<line x1="33.80" y1="369.90" x2="186.20" y2="369.90" stroke="#111" stroke-width="1.2"/>
<text x="218.40" y="365.00" font-size="8.97" text-anchor="middle" fill="#383838" font-style="italic" stroke="#383838" stroke-width="0.08" textLength="20.30" lengthAdjust="spacingAndGlyphs">mKitL</text>
<line x1="200.00" y1="369.90" x2="236.30" y2="369.90" stroke="#111" stroke-width="1.2"/>
<text x="68.00" y="380.30" font-size="8.97" text-anchor="middle" fill="#383838" stroke="#383838" stroke-width="0.08" textLength="25.00" lengthAdjust="spacingAndGlyphs">DMSO</text>
<line x1="33.80" y1="384.90" x2="102.50" y2="384.90" stroke="#111" stroke-width="1.2"/>
<text x="152.60" y="380.30" font-size="8.97" text-anchor="middle" fill="#383838" stroke="#383838" stroke-width="0.08" textLength="56.00" lengthAdjust="spacingAndGlyphs">Mmp9 inhibitor</text>
<line x1="117.80" y1="384.90" x2="187.00" y2="384.90" stroke="#111" stroke-width="1.2"/>
<text x="218.00" y="380.30" font-size="8.97" text-anchor="middle" fill="#383838" stroke="#383838" stroke-width="0.08" textLength="23.60" lengthAdjust="spacingAndGlyphs">DMSO</text>
<line x1="200.00" y1="384.90" x2="236.30" y2="384.90" stroke="#111" stroke-width="1.2"/>
<text x="47.90" y="395.00" font-size="8.97" text-anchor="middle" fill="#383838" stroke="#383838" stroke-width="0.08" textLength="13.00" lengthAdjust="spacingAndGlyphs">WT</text>
<text x="90.40" y="395.00" font-size="8.97" text-anchor="middle" fill="#383838" stroke="#383838" stroke-width="0.08" textLength="11.60" lengthAdjust="spacingAndGlyphs">KO</text>
<text x="133.20" y="395.00" font-size="8.97" text-anchor="middle" fill="#383838" stroke="#383838" stroke-width="0.08" textLength="13.00" lengthAdjust="spacingAndGlyphs">WT</text>
<text x="175.90" y="395.00" font-size="8.97" text-anchor="middle" fill="#383838" stroke="#383838" stroke-width="0.08" textLength="11.60" lengthAdjust="spacingAndGlyphs">KO</text>
<text x="218.00" y="395.00" font-size="8.97" text-anchor="middle" fill="#383838" stroke="#383838" stroke-width="0.08" textLength="11.60" lengthAdjust="spacingAndGlyphs">KO</text>
<text x="27.20" y="480.00" font-size="10.00" text-anchor="middle" fill="#2a2a2a" stroke="#2a2a2a" stroke-width="0.08" textLength="118.60" lengthAdjust="spacingAndGlyphs" transform="rotate(-90 27.20 480.00)">E12.5 FL Endothelial cells</text>
<rect x="28.70" y="399.80" width="212.30" height="169.60" fill="#9a9a9a" />
<rect x="28.70" y="441.60" width="212.30" height="1.40" fill="#d0d0d0" />
<rect x="28.70" y="484.60" width="212.30" height="1.40" fill="#d0d0d0" />
<rect x="28.70" y="527.40" width="212.30" height="1.40" fill="#d0d0d0" />
<rect x="28.70" y="399.80" width="41.10" height="41.80" fill="#050507" />
<rect x="28.70" y="443.00" width="41.10" height="41.60" fill="#050507" />
<rect x="28.70" y="486.00" width="41.10" height="41.40" fill="#050507" />
<rect x="28.70" y="528.80" width="41.10" height="40.60" fill="#050507" />
<rect x="71.20" y="399.80" width="41.70" height="41.80" fill="#050507" />
<rect x="71.20" y="443.00" width="41.70" height="41.60" fill="#050507" />
<rect x="71.20" y="486.00" width="41.70" height="41.40" fill="#050507" />
<rect x="71.20" y="528.80" width="41.70" height="40.60" fill="#050507" />
<rect x="114.30" y="399.80" width="40.80" height="41.80" fill="#050507" />
<rect x="114.30" y="443.00" width="40.80" height="41.60" fill="#050507" />
<rect x="114.30" y="486.00" width="40.80" height="41.40" fill="#050507" />
<rect x="114.30" y="528.80" width="40.80" height="40.60" fill="#050507" />
<rect x="156.50" y="399.80" width="41.40" height="41.80" fill="#050507" />
<rect x="156.50" y="443.00" width="41.40" height="41.60" fill="#050507" />
<rect x="156.50" y="486.00" width="41.40" height="41.40" fill="#050507" />
<rect x="156.50" y="528.80" width="41.40" height="40.60" fill="#050507" />
<rect x="199.30" y="399.80" width="41.70" height="41.80" fill="#050507" />
<rect x="199.30" y="443.00" width="41.70" height="41.60" fill="#050507" />
<rect x="199.30" y="486.00" width="41.70" height="41.40" fill="#050507" />
<rect x="199.30" y="528.80" width="41.70" height="40.60" fill="#050507" />
<filter id="bb" x="-50%" y="-50%" width="200%" height="200%"><feGaussianBlur stdDeviation="0.9"/></filter>
<filter id="bb2" x="-50%" y="-50%" width="200%" height="200%"><feGaussianBlur stdDeviation="1.0"/></filter>
<circle cx="44.00" cy="409.80" r="2.00" fill="#30306a" fill-opacity="0.70" filter="url(#bb2)"/>
<circle cx="55.50" cy="431.00" r="2.60" fill="#303078" fill-opacity="0.70" filter="url(#bb2)"/>
<circle cx="100.30" cy="412.00" r="2.20" fill="#5a5a9a" fill-opacity="0.90" filter="url(#bb2)"/>
<circle cx="82.10" cy="432.20" r="2.40" fill="#5050a0" fill-opacity="0.90" filter="url(#bb2)"/>
<circle cx="134.10" cy="419.50" r="2.60" fill="#4a4a9a" fill-opacity="0.90" filter="url(#bb2)"/>
<circle cx="219.60" cy="419.50" r="2.30" fill="#4a4a9a" fill-opacity="0.90" filter="url(#bb2)"/>
<circle cx="100.70" cy="453.80" r="3.75" fill="#8a2418" fill-opacity="0.32" filter="url(#bb2)"/>
<circle cx="100.70" cy="453.80" r="3.90" fill="none" stroke="#8a2418" stroke-width="1.90" stroke-opacity="0.68" filter="url(#bb)"/>
<circle cx="82.50" cy="475.90" r="4.05" fill="#9a2a1c" fill-opacity="0.33" filter="url(#bb2)"/>
<circle cx="82.50" cy="475.90" r="4.21" fill="none" stroke="#9a2a1c" stroke-width="2.05" stroke-opacity="0.71" filter="url(#bb)"/>
<circle cx="182.40" cy="463.50" r="3.30" fill="#e03828" fill-opacity="0.44" filter="url(#bb2)"/>
<circle cx="182.40" cy="463.50" r="3.43" fill="none" stroke="#e03828" stroke-width="1.67" stroke-opacity="0.94" filter="url(#bb)"/>
<circle cx="220.40" cy="462.70" r="3.15" fill="#c83020" fill-opacity="0.42" filter="url(#bb2)"/>
<circle cx="220.40" cy="462.70" r="3.28" fill="none" stroke="#c83020" stroke-width="1.60" stroke-opacity="0.90" filter="url(#bb)"/>
<circle cx="43.80" cy="494.80" r="3.00" fill="#38a030" fill-opacity="0.42" filter="url(#bb2)"/>
<circle cx="43.80" cy="494.80" r="3.12" fill="none" stroke="#38a030" stroke-width="1.52" stroke-opacity="0.90" filter="url(#bb)"/>
<circle cx="56.30" cy="516.60" r="3.60" fill="#48b838" fill-opacity="0.45" filter="url(#bb2)"/>
<circle cx="56.30" cy="516.60" r="3.74" fill="none" stroke="#48b838" stroke-width="1.82" stroke-opacity="0.98" filter="url(#bb)"/>
<circle cx="101.10" cy="496.80" r="2.70" fill="#225e1c" fill-opacity="0.28" filter="url(#bb2)"/>
<circle cx="101.10" cy="496.80" r="2.81" fill="none" stroke="#225e1c" stroke-width="1.37" stroke-opacity="0.60" filter="url(#bb)"/>
<circle cx="82.10" cy="519.20" r="3.15" fill="#38a030" fill-opacity="0.39" filter="url(#bb2)"/>
<circle cx="82.10" cy="519.20" r="3.28" fill="none" stroke="#38a030" stroke-width="1.60" stroke-opacity="0.83" filter="url(#bb)"/>
<circle cx="134.70" cy="504.50" r="3.00" fill="#58c040" fill-opacity="0.45" filter="url(#bb2)"/>
<circle cx="134.70" cy="504.50" r="3.12" fill="none" stroke="#58c040" stroke-width="1.52" stroke-opacity="0.98" filter="url(#bb)"/>
<circle cx="183.20" cy="505.80" r="3.00" fill="#26561e" fill-opacity="0.32" filter="url(#bb2)"/>
<circle cx="183.20" cy="505.80" r="3.12" fill="none" stroke="#26561e" stroke-width="1.52" stroke-opacity="0.68" filter="url(#bb)"/>
<circle cx="221.20" cy="504.50" r="3.00" fill="#3a8a2c" fill-opacity="0.32" filter="url(#bb2)"/>
<circle cx="221.20" cy="504.50" r="3.12" fill="none" stroke="#3a8a2c" stroke-width="1.52" stroke-opacity="0.68" filter="url(#bb)"/>
<circle cx="43.80" cy="537.00" r="3.15" fill="#a06040" fill-opacity="0.42" filter="url(#bb2)"/>
<circle cx="43.80" cy="537.00" r="3.28" fill="none" stroke="#90a050" stroke-width="1.60" stroke-opacity="0.90" filter="url(#bb)"/>
<circle cx="56.30" cy="558.80" r="3.75" fill="#5a6ab8" fill-opacity="0.45" filter="url(#bb2)"/>
<circle cx="56.30" cy="558.80" r="3.90" fill="none" stroke="#70b060" stroke-width="1.90" stroke-opacity="0.98" filter="url(#bb)"/>
<circle cx="101.10" cy="537.80" r="2.85" fill="#6a4a30" fill-opacity="0.28" filter="url(#bb2)"/>
<circle cx="101.10" cy="537.80" r="2.96" fill="none" stroke="#6a4a30" stroke-width="1.44" stroke-opacity="0.60" filter="url(#bb)"/>
<circle cx="82.10" cy="560.30" r="3.45" fill="#6060b8" fill-opacity="0.39" filter="url(#bb2)"/>
<circle cx="82.10" cy="560.30" r="3.59" fill="none" stroke="#c08030" stroke-width="1.75" stroke-opacity="0.83" filter="url(#bb)"/>
<circle cx="134.10" cy="546.30" r="3.00" fill="#70c0a0" fill-opacity="0.44" filter="url(#bb2)"/>
<circle cx="134.10" cy="546.30" r="3.12" fill="none" stroke="#70c0a0" stroke-width="1.52" stroke-opacity="0.94" filter="url(#bb)"/>
<circle cx="183.60" cy="547.60" r="3.00" fill="#70b050" fill-opacity="0.44" filter="url(#bb2)"/>
<circle cx="183.60" cy="547.60" r="3.12" fill="none" stroke="#d04838" stroke-width="1.52" stroke-opacity="0.94" filter="url(#bb)"/>
<circle cx="220.40" cy="546.30" r="3.00" fill="#7070c0" fill-opacity="0.40" filter="url(#bb2)"/>
<circle cx="220.40" cy="546.30" r="3.12" fill="none" stroke="#b05a40" stroke-width="1.52" stroke-opacity="0.86" filter="url(#bb)"/>
<line x1="63.20" y1="524.00" x2="67.80" y2="524.00" stroke="#e8e8e8" stroke-width="1.4" stroke-opacity="1"/>
<line x1="63.20" y1="566.00" x2="67.80" y2="566.00" stroke="#e8e8e8" stroke-width="1.4" stroke-opacity="1"/>
<line x1="106.30" y1="438.20" x2="110.90" y2="438.20" stroke="#e8e8e8" stroke-width="1.4" stroke-opacity="1"/>
<line x1="106.30" y1="481.20" x2="110.90" y2="481.20" stroke="#e8e8e8" stroke-width="1.4" stroke-opacity="1"/>
<line x1="106.30" y1="524.00" x2="110.90" y2="524.00" stroke="#e8e8e8" stroke-width="1.4" stroke-opacity="1"/>
<line x1="106.30" y1="566.00" x2="110.90" y2="566.00" stroke="#e8e8e8" stroke-width="1.4" stroke-opacity="1"/>
<line x1="148.50" y1="438.20" x2="153.10" y2="438.20" stroke="#e8e8e8" stroke-width="1.4" stroke-opacity="0.35"/>
<line x1="148.50" y1="481.20" x2="153.10" y2="481.20" stroke="#e8e8e8" stroke-width="1.4" stroke-opacity="0.3"/>
<line x1="148.50" y1="524.00" x2="153.10" y2="524.00" stroke="#e8e8e8" stroke-width="1.4" stroke-opacity="0.3"/>
<line x1="148.50" y1="566.00" x2="153.10" y2="566.00" stroke="#e8e8e8" stroke-width="1.4" stroke-opacity="1"/>
<line x1="191.30" y1="481.20" x2="195.90" y2="481.20" stroke="#e8e8e8" stroke-width="1.4" stroke-opacity="1"/>
<line x1="191.30" y1="524.00" x2="195.90" y2="524.00" stroke="#e8e8e8" stroke-width="1.4" stroke-opacity="1"/>
<line x1="191.30" y1="566.00" x2="195.90" y2="566.00" stroke="#e8e8e8" stroke-width="1.4" stroke-opacity="0.7"/>
<line x1="234.40" y1="438.20" x2="239.00" y2="438.20" stroke="#e8e8e8" stroke-width="1.4" stroke-opacity="1"/>
<line x1="234.40" y1="481.20" x2="239.00" y2="481.20" stroke="#e8e8e8" stroke-width="1.4" stroke-opacity="0.3"/>
<line x1="234.40" y1="524.00" x2="239.00" y2="524.00" stroke="#e8e8e8" stroke-width="1.4" stroke-opacity="1"/>
<line x1="234.40" y1="566.00" x2="239.00" y2="566.00" stroke="#e8e8e8" stroke-width="1.4" stroke-opacity="1"/>
<text x="30.30" y="438.60" font-size="8.51" text-anchor="start" fill="#303c80" stroke="#303c80" stroke-width="0.08" textLength="17.50" lengthAdjust="spacingAndGlyphs">DAPI</text>
<text x="30.30" y="481.60" font-size="8.51" text-anchor="start" fill="#901820" stroke="#901820" stroke-width="0.08" textLength="18.50" lengthAdjust="spacingAndGlyphs">CD31</text>
<text x="30.30" y="525.00" font-size="8.74" text-anchor="start" fill="#7e9a5a" stroke="#7e9a5a" stroke-width="0.08" textLength="19.50" lengthAdjust="spacingAndGlyphs">mKitL</text>
<text x="30.30" y="566.40" font-size="9.43" text-anchor="start" fill="#f4f4f4" stroke="#f4f4f4" stroke-width="0.08" textLength="22.30" lengthAdjust="spacingAndGlyphs">Merge</text>
<filter id="bl1" x="-20%" y="-20%" width="140%" height="140%"><feGaussianBlur stdDeviation="1.2"/></filter>
<filter id="bl2" x="-20%" y="-20%" width="140%" height="140%"><feGaussianBlur stdDeviation="0.6"/></filter>
<filter id="rough" x="-10%" y="-10%" width="120%" height="120%"><feTurbulence type="fractalNoise" baseFrequency="0.5" numOctaves="2" seed="4" result="t"/><feDisplacementMap in="SourceGraphic" in2="t" scale="3" xChannelSelector="R" yChannelSelector="G"/><feGaussianBlur stdDeviation="0.4"/></filter>
<filter id="pf1" x="289.4" y="358.3" width="93.0" height="68.30000000000001" filterUnits="userSpaceOnUse" color-interpolation-filters="sRGB"><feTurbulence type="fractalNoise" baseFrequency="0.45" numOctaves="3" seed="5"/><feColorMatrix type="matrix" values="1 0 0 0 0  1 0 0 0 0  1 0 0 0 0  0 0 0 0 1"/><feComponentTransfer><feFuncR type="table" tableValues="0.588 0.647 0.706 0.765 0.816 0.855 0.894 0.941 0.980 1.000 1.000"/><feFuncG type="table" tableValues="0.039 0.055 0.078 0.110 0.149 0.220 0.353 0.588 0.863 1.000 1.000"/><feFuncB type="table" tableValues="0.235 0.259 0.290 0.329 0.369 0.431 0.533 0.706 0.922 1.000 1.000"/></feComponentTransfer></filter>
<filter id="pm1b" x="-10%" y="-10%" width="120%" height="120%"><feGaussianBlur stdDeviation="1.4"/></filter>
<mask id="pm1" maskUnits="userSpaceOnUse" x="289.4" y="358.3" width="93.0" height="68.30000000000001"><path d="M306 376 Q314 372 322 375 Q326 383 322 391 Q316 396 308 395 Q304 386 306 376 Z M324 371 Q334 367 342 369 Q340 377 332 380 Q326 379 324 371 Z M342 374 Q352 371 364 373 Q362 379 352 380 Q344 381 342 374 Z M367 358 L383 358 L383 370 Q376 369 369 364 Z" fill="#fff" fill-opacity="0.62" filter="url(#pm1b)"/></mask>
<filter id="he1" x="289.4" y="358.3" width="93.0" height="68.30000000000001" filterUnits="userSpaceOnUse" color-interpolation-filters="sRGB"><feTurbulence type="fractalNoise" baseFrequency="0.35" numOctaves="3" seed="3"/><feColorMatrix type="matrix" values="1 0 0 0 0  1 0 0 0 0  1 0 0 0 0  0 0 0 0 1"/><feComponentTransfer><feFuncR type="table" tableValues="0.392 0.431 0.486 0.549 0.612 0.675 0.745 0.824 0.910 0.973 1.000"/><feFuncG type="table" tableValues="0.141 0.157 0.188 0.227 0.275 0.337 0.431 0.569 0.753 0.933 1.000"/><feFuncB type="table" tableValues="0.431 0.463 0.502 0.549 0.596 0.643 0.706 0.784 0.902 0.973 1.000"/></feComponentTransfer></filter>
<clipPath id="he1c"><rect x="289.4" y="358.3" width="93.0" height="68.30000000000001"/></clipPath>
<g clip-path="url(#he1c)">
<rect x="289.4" y="358.3" width="93.0" height="68.30000000000001" filter="url(#he1)"/>
<filter id="he1L" x="289.4" y="358.3" width="93.0" height="68.30000000000001" filterUnits="userSpaceOnUse" color-interpolation-filters="sRGB"><feTurbulence type="fractalNoise" baseFrequency="0.09" numOctaves="2" seed="23"/><feColorMatrix type="matrix" values="0 0 0 0 0.373  0 0 0 0 0.149  0 0 0 0 0.463  1.2 0 0 0 -0.5"/></filter>
<rect x="289.4" y="358.3" width="93.0" height="68.30000000000001" filter="url(#he1L)"/>
<rect x="289.4" y="358.3" width="93.0" height="68.30000000000001" filter="url(#pf1)" mask="url(#pm1)"/><path d="M329 378 Q336 372 343 370 Q350 369 356 371 Q362 368 367 364 Q370 361 373 359" stroke="#ffffff" stroke-opacity="0.85" stroke-width="2.0" fill="none" filter="url(#rough)"/><path d="M307.5 381 Q306 386 306.5 391 M312 395 Q318 394 322 396 M328 403 Q333 401 337 402 M350 406 Q360 402 369 401 M312 416 Q320 413 326 416 M300 404 Q304 402 308 404 M340 390 Q346 388 352 392 M372 384 Q378 382 382 386 M345 420 Q352 417 358 420 M318 372 Q322 370 326 372" stroke="#ffffff" stroke-opacity="0.6" stroke-width="1.2" fill="none" filter="url(#rough)"/><rect x="291" y="422.6" width="11" height="1.2" fill="#202020"/>
</g>
<filter id="he2" x="289.4" y="429.8" width="93.0" height="68.39999999999998" filterUnits="userSpaceOnUse" color-interpolation-filters="sRGB"><feTurbulence type="fractalNoise" baseFrequency="0.4" numOctaves="3" seed="7"/><feColorMatrix type="matrix" values="1 0 0 0 0  1 0 0 0 0  1 0 0 0 0  0 0 0 0 1"/><feComponentTransfer><feFuncR type="table" tableValues="0.533 0.580 0.643 0.714 0.776 0.831 0.886 0.941 0.980 1.000 1.000"/><feFuncG type="table" tableValues="0.227 0.275 0.361 0.463 0.573 0.667 0.761 0.863 0.949 1.000 1.000"/><feFuncB type="table" tableValues="0.541 0.588 0.651 0.722 0.792 0.847 0.902 0.949 0.980 1.000 1.000"/></feComponentTransfer></filter>
<clipPath id="he2c"><rect x="289.4" y="429.8" width="93.0" height="68.39999999999998"/></clipPath>
<g clip-path="url(#he2c)">
<rect x="289.4" y="429.8" width="93.0" height="68.39999999999998" filter="url(#he2)"/>
<path d="M345 440 Q360 448 372 470 Q360 480 350 470 Q340 455 345 440Z" fill="#ffffff" fill-opacity="0.25" filter="url(#bl1)"/>
</g>
<filter id="he3" x="289.4" y="500.9" width="93.0" height="68.30000000000007" filterUnits="userSpaceOnUse" color-interpolation-filters="sRGB"><feTurbulence type="fractalNoise" baseFrequency="0.35" numOctaves="3" seed="11"/><feColorMatrix type="matrix" values="1 0 0 0 0  1 0 0 0 0  1 0 0 0 0  0 0 0 0 1"/><feComponentTransfer><feFuncR type="table" tableValues="0.392 0.431 0.486 0.549 0.612 0.675 0.745 0.824 0.910 0.973 1.000"/><feFuncG type="table" tableValues="0.141 0.157 0.188 0.227 0.275 0.337 0.431 0.569 0.753 0.933 1.000"/><feFuncB type="table" tableValues="0.431 0.463 0.502 0.549 0.596 0.643 0.706 0.784 0.902 0.973 1.000"/></feComponentTransfer></filter>
<clipPath id="he3c"><rect x="289.4" y="500.9" width="93.0" height="68.30000000000007"/></clipPath>
<g clip-path="url(#he3c)">
<rect x="289.4" y="500.9" width="93.0" height="68.30000000000007" filter="url(#he3)"/>
<filter id="he3L" x="289.4" y="500.9" width="93.0" height="68.30000000000007" filterUnits="userSpaceOnUse" color-interpolation-filters="sRGB"><feTurbulence type="fractalNoise" baseFrequency="0.09" numOctaves="2" seed="31"/><feColorMatrix type="matrix" values="0 0 0 0 0.373  0 0 0 0 0.149  0 0 0 0 0.463  1.2 0 0 0 -0.5"/></filter>
<rect x="289.4" y="500.9" width="93.0" height="68.30000000000007" filter="url(#he3L)"/>
<path d="M310 500.5 L335.5 500.5 Q335.5 505 331 507 Q325 508.5 318 507.5 Q313 507 310 504 Z" fill="#ffffff" filter="url(#bl2)"/><path d="M322 505 Q324 503 326 505 Q324 507 322 505 Z" fill="#9a4aa0" filter="url(#bl2)"/><path d="M333 507 Q339 509 343 513 Q347 516 352 515 M320 512 Q326 511 330 514" stroke="#ffffff" stroke-opacity="0.85" stroke-width="1.4" fill="none" filter="url(#bl2)"/><path d="M295.5 524 Q298 522 300.5 524 Q300 527.5 297 528 Q295 526.5 295.5 524 Z" fill="#ffffff" filter="url(#bl2)"/><path d="M305 556 Q306 551 312 551 Q318 552 324 551 Q332 553 338 552 Q344 553 350 555 Q356 553 360 556 Q363 559 364 564 Q356 566 346 565 Q336 566 326 565 Q316 566 308 565 Q304 562 305 556 Z" fill="#ffffff" filter="url(#bl2)"/><path d="M312.5 555 a1.6 1.3 0 1 0 3.2 0 a1.6 1.3 0 1 0 -3.2 0 M319.5 560.5 a1.6 1.3 0 1 0 3.2 0 a1.6 1.3 0 1 0 -3.2 0 M329.5 556 a1.6 1.3 0 1 0 3.2 0 a1.6 1.3 0 1 0 -3.2 0 M336.5 558 a1.6 1.3 0 1 0 3.2 0 a1.6 1.3 0 1 0 -3.2 0 M345 557 a1.3 1.1 0 1 0 2.6 0 a1.3 1.1 0 1 0 -2.6 0 M354 561 a1.3 1.1 0 1 0 2.6 0 a1.3 1.1 0 1 0 -2.6 0" fill="#8a3c94" fill-opacity="0.9" filter="url(#bl2)"/><path d="M300 540 Q310 538 318 544 M346 530 Q356 528 364 534 M360 512 Q368 514 374 520" stroke="#ffffff" stroke-opacity="0.4" stroke-width="1.0" fill="none" filter="url(#bl2)"/>
</g>
<text x="284.00" y="393.00" font-size="9.66" text-anchor="middle" fill="#383838" stroke="#383838" stroke-width="0.08" textLength="13.50" lengthAdjust="spacingAndGlyphs" transform="rotate(-90 284.00 393.00)">WT</text>
<text x="284.00" y="463.60" font-size="9.66" text-anchor="middle" fill="#383838" stroke="#383838" stroke-width="0.08" textLength="59.80" lengthAdjust="spacingAndGlyphs" transform="rotate(-90 284.00 463.60)">Tie2-Ezh2-KO</text>
<text x="272.40" y="535.30" font-size="9.66" text-anchor="middle" fill="#383838" stroke="#383838" stroke-width="0.08" textLength="60.30" lengthAdjust="spacingAndGlyphs" transform="rotate(-90 272.40 535.30)">Tie2-Ezh2-KO</text>
<text x="283.60" y="535.20" font-size="9.66" text-anchor="middle" fill="#383838" stroke="#383838" stroke-width="0.08" textLength="43.60" lengthAdjust="spacingAndGlyphs" transform="rotate(-90 283.60 535.20)">Mmp9-KO</text>
</svg>
</body></html>
